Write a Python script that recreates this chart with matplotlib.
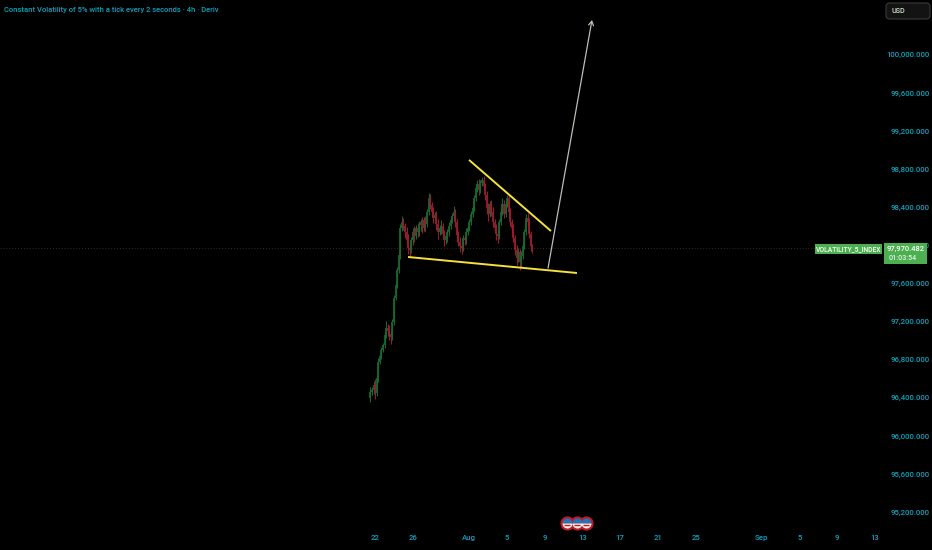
import matplotlib
matplotlib.use("Agg")
import matplotlib.pyplot as plt
from matplotlib.patches import FancyBboxPatch, Rectangle

# 4h candles: one bar every 1/6 day, starting at this day (July numbering; Aug 1 = 32)
first_day = 21.52
bars_per_day = 6
open_first = 96400
closes = [96461, 96482, 96535, 96450, 96608, 96776, 96839, 96902, 96955, 97060, 97133, 97102, 97070, 97040,
          97196, 97448, 97585, 97742, 97900, 98183, 98246, 98204, 98141, 98057, 97973, 97952, 98057, 98141,
          98099, 98183, 98141, 98215, 98246, 98183, 98267, 98225, 98351, 98498, 98425, 98351, 98288, 98320,
          98225, 98141, 98183, 98204, 98120, 98057, 98099, 98141, 98204, 98267, 98309, 98351, 98246, 98110,
          98036, 97994, 97973, 98078, 98057, 98141, 98183, 98246, 98330, 98393, 98498, 98603, 98645, 98582,
          98655, 98687, 98624, 98530, 98393, 98330, 98435, 98351, 98246, 98183, 98120, 98099, 98246, 98351,
          98435, 98330, 98435, 98498, 98351, 98246, 98183, 98078, 97952, 97868, 97931, 97826, 97889, 97994,
          98141, 98288, 98246, 98120, 97994, 97952]
wick_up = [50, 30, 40, 60, 30, 40, 20, 30, 25, 30, 70, 40, 60, 30,
           30, 30, 25, 30, 30, 40, 60, 40, 30, 50, 60, 70, 30, 40,
           60, 30, 50, 40, 30, 50, 30, 40, 30, 50, 40, 30, 50, 30,
           40, 50, 30, 60, 30, 40, 40, 30, 40, 30, 30, 60, 30, 30,
           40, 50, 60, 30, 50, 40, 30, 30, 30, 30, 30, 30, 40, 50,
           30, 30, 40, 30, 40, 50, 30, 40, 50, 30, 40, 50, 30, 30,
           60, 40, 30, 30, 30, 40, 30, 40, 30, 50, 40, 30, 50, 30,
           30, 40, 50, 40, 30, 20]
wick_dn = [40, 30, 40, 60, 30, 40, 20, 30, 25, 30, 30, 50, 60, 70,
           30, 30, 25, 30, 30, 40, 30, 40, 60, 50, 60, 70, 30, 50,
           60, 30, 50, 40, 60, 50, 30, 80, 30, 30, 40, 50, 50, 30,
           60, 70, 30, 60, 50, 60, 40, 60, 40, 30, 30, 30, 50, 70,
           40, 60, 60, 30, 50, 40, 30, 30, 30, 30, 30, 30, 40, 50,
           30, 30, 40, 50, 60, 70, 30, 40, 50, 50, 60, 70, 30, 30,
           30, 40, 30, 30, 50, 40, 60, 40, 50, 70, 40, 80, 50, 30,
           30, 30, 50, 40, 50, 30]

# drawings: (day, price)
resistance_days = [31.97, 40.66]
resistance_prices = [98898, 98152]
support_days = [25.5, 43.42]
support_prices = [97879, 97711]
arrow_start = (40.35, 97763)
arrow_end = (45.01, 100367)

last_price = 97970.482
symbol = "VOLATILITY_5_INDEX"
countdown = "01:03:54"
title = "Constant Volatility of 5% with a tick every 2 seconds · 4h · Deriv"
y_ticks = [100000, 99600, 99200, 98800, 98400, 98000, 97600, 97200, 96800, 96400, 96000, 95600, 95200]
x_ticks = [22, 26, 32, 36, 40, 44, 48, 52, 56, 63, 67, 71, 75]
x_labels = ["22", "26", "Aug", "5", "9", "13", "17", "21", "25", "Sep", "5", "9", "13"]
flag_days = [42.4, 43.4, 44.4]
flag_price = 95085

TEAL = "#0ca3bd"
GREEN = "#16682f"
RED = "#981c30"
LABEL_GREEN = "#4caf50"
YELLOW = "#f5e13a"

plt.rcParams["font.family"] = ["Roboto", "Noto Sans", "DejaVu Sans"]
plt.rcParams["font.weight"] = "medium"

fig = plt.figure(figsize=(9.32, 5.5), dpi=100, facecolor="black")
ax = fig.add_axes([0, 0, 1, 1], facecolor="black")
ax.set_xlim(-17.77, 81.07)
ax.set_ylim(94803, 100577)
ax.set_axisbelow(True)
for s in ax.spines.values():
    s.set_visible(False)

# candles
opens = [open_first] + closes[:-1]
for i, (o, c, wu, wd) in enumerate(zip(opens, closes, wick_up, wick_dn)):
    d = first_day + i / bars_per_day
    col = GREEN if c >= o else RED
    ax.vlines(d, min(o, c) - wd, max(o, c) + wu, color=col, lw=0.8, zorder=3)
    ax.vlines(d, min(o, c), max(o, c), color=col, lw=1.3, zorder=3)

# last price dotted line
ax.axhline(last_price, xmax=815 / 932, color="#2e2e2e", lw=0.7, ls=(0, (1, 2)), zorder=1)

# drawings
ax.plot(resistance_days, resistance_prices, color=YELLOW, lw=1.4, zorder=4, solid_capstyle="butt")
ax.plot(support_days, support_prices, color=YELLOW, lw=1.4, zorder=4, solid_capstyle="butt")
ax.annotate("", xy=arrow_end, xytext=arrow_start, zorder=4,
            arrowprops=dict(arrowstyle="->,head_width=0.18,head_length=0.3", color="#bdbdb6", lw=0.9,
                            shrinkA=0, shrinkB=0))

# ticks
ax.yaxis.tick_right()
ax.set_yticks(y_ticks)
ax.set_yticklabels([f"{v:,.3f}" for v in y_ticks])
ax.tick_params(axis="y", length=0, pad=-1.5, labelsize=5.6, labelcolor=TEAL)
for t in ax.get_yticklabels():
    t.set_ha("right")
ax.set_xticks(x_ticks)
ax.set_xticklabels(x_labels)
ax.tick_params(axis="x", length=0, pad=-10.5, labelsize=5.6, labelcolor=TEAL)

# title
ax.text(4 / 932, 1 - 10 / 550, title, transform=ax.transAxes, color=TEAL, fontsize=5.5,
        va="center", ha="left")

# price labels
tf = ax.transAxes
ax.add_patch(Rectangle((815 / 932, 1 - 254 / 550), 67 / 932, 10 / 550, transform=tf, color=LABEL_GREEN, zorder=5, lw=0))
ax.add_patch(Rectangle((884 / 932, 1 - 264 / 550), 43 / 932, 21 / 550, transform=tf, color=LABEL_GREEN, zorder=5, lw=0))
ax.text(848.5 / 932, 1 - 249 / 550, symbol, transform=tf, color="white", fontsize=4.9, ha="center", va="center", zorder=6)
ax.text(905.5 / 932, 1 - 249 / 550, f"{last_price:,.3f}", transform=tf, color="white", fontsize=5.4, ha="center", va="center", zorder=6)
ax.text(902.5 / 932, 1 - 258.5 / 550, countdown, transform=tf, color="#dff2df", fontsize=5.1, ha="center", va="center", zorder=6)

# USD button
ax.add_patch(FancyBboxPatch((886 / 932, 1 - 19 / 550), 44 / 932, 16 / 550, transform=tf,
                            boxstyle="round,pad=0,rounding_size=0.004", mutation_aspect=1.7,
                            fc="#131313", ec="#3a3a3a", lw=0.8, zorder=5))
ax.text(891 / 932, 1 - 11 / 550, "USD", transform=tf, color="#cfe3c8", fontsize=5.2, ha="left", va="center", zorder=6)

# event flags
for d in flag_days:
    ax.plot([d], [flag_price], marker="o", ms=9.2, mfc="#c01c28", mec="#c01c28", zorder=5)
    ax.plot([d], [flag_price], marker="o", ms=7.2, fillstyle="top", mfc="#1c78b8", mfcalt="#f2efe8",
            mec="none", zorder=6)
    ax.plot([d], [flag_price - 22], marker="_", ms=5, mew=1.0, color="#c01c28", zorder=7)

fig.savefig("out.png", dpi=100, facecolor="black")
